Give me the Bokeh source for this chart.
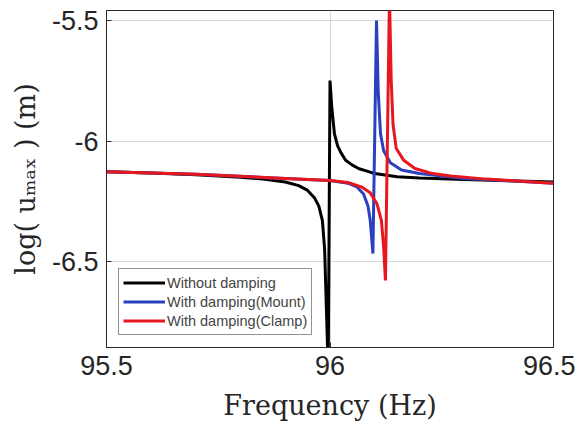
from bokeh.plotting import figure
from bokeh.models import Range1d, Legend, LegendItem
from bokeh.embed import file_html
from bokeh.resources import INLINE

# Data
x_black = [95.5, 95.6, 95.7, 95.8, 95.85, 95.9, 95.93, 95.95, 95.965, 95.975, 95.983,
           95.988, 95.992, 95.996, 96.0, 96.004, 96.01, 96.017, 96.025, 96.035, 96.05,
           96.065, 96.083, 96.1, 96.15, 96.2, 96.3, 96.4, 96.5]
y_black = [-6.127, -6.133, -6.140, -6.150, -6.158, -6.170, -6.185, -6.205, -6.235, -6.27,
           -6.33, -6.45, -6.70, -6.95, -5.749, -5.86, -5.97, -6.02, -6.05, -6.08, -6.10,
           -6.115, -6.125, -6.135, -6.148, -6.153, -6.160, -6.165, -6.170]

x_blue = [95.5, 95.7, 95.9, 96.0, 96.04, 96.06, 96.075, 96.085, 96.09, 96.094, 96.096,
          96.104, 96.108, 96.113, 96.12, 96.135, 96.16, 96.2, 96.25, 96.3, 96.4, 96.5]
y_blue = [-6.127, -6.138, -6.155, -6.164, -6.175, -6.19, -6.22, -6.27, -6.33, -6.42,
          -6.467, -5.5, -5.8, -5.97, -6.04, -6.09, -6.12, -6.135, -6.145, -6.155,
          -6.165, -6.175]

x_red = [95.5, 95.7, 95.9, 96.0, 96.04, 96.07, 96.09, 96.105, 96.115, 96.12, 96.124,
         96.133, 96.137, 96.141, 96.148, 96.165, 96.19, 96.23, 96.27, 96.35, 96.5]
y_red = [-6.127, -6.138, -6.155, -6.164, -6.172, -6.19, -6.215, -6.26, -6.33, -6.44,
         -6.579, -5.40, -5.75, -5.93, -6.03, -6.08, -6.114, -6.135, -6.145, -6.158, -6.175]

series_names = ["Without damping", "With damping(Mount)", "With damping(Clamp)"]
x_ticks = [95.5, 96, 96.5]
x_tick_labels = ["95.5", "96", "96.5"]
y_ticks = [-6.5, -6, -5.5]
y_tick_labels = ["-6.5", "-6", "-5.5"]

p = figure(width=575, height=423, output_backend="svg", toolbar_location=None,
           x_range=Range1d(95.5, 96.5), y_range=Range1d(-6.857, -5.458),
           min_border_left=106, min_border_right=22, min_border_top=10, min_border_bottom=76)

colors = ["#000000", "#2b40c0", "#e8171e"]
r1 = p.line(x_black, y_black, line_color=colors[0], line_width=3)
r2 = p.line(x_blue, y_blue, line_color=colors[1], line_width=3)
r3 = p.line(x_red, y_red, line_color=colors[2], line_width=3)

legend = Legend(items=[LegendItem(label=series_names[0], renderers=[r1]),
                       LegendItem(label=series_names[1], renderers=[r2]),
                       LegendItem(label=series_names[2], renderers=[r3])],
                location="bottom_left", margin=12, padding=4, spacing=0,
                label_text_font="Liberation Sans", label_text_font_size="14.5px",
                label_standoff=2, glyph_width=42, glyph_height=19, label_height=19,
                border_line_color="#262626", border_line_width=1,
                background_fill_color="white", background_fill_alpha=1.0)
p.add_layout(legend, "center")

p.xaxis.ticker = x_ticks
p.xaxis.major_label_overrides = {t: l for t, l in zip(x_ticks, x_tick_labels)}
p.yaxis.ticker = y_ticks
p.yaxis.major_label_overrides = {t: l for t, l in zip(y_ticks, y_tick_labels)}

p.xaxis.axis_label = "Frequency (Hz)"
p.yaxis.axis_label = "log( uₘₐₓ ) (m)"

for ax in [p.xaxis, p.yaxis]:
    ax.major_label_text_font = "Liberation Sans"
    ax.major_label_text_font_size = "27px"
    ax.major_label_text_color = "#262626"
    ax.axis_label_text_font = "DejaVu Serif"
    ax.axis_label_text_font_size = "27px"
    ax.axis_label_text_font_style = "normal"
    ax.axis_label_text_color = "#262626"
    ax.axis_line_color = "#262626"
    ax.major_tick_line_color = "#262626"
    ax.major_tick_in = 5
    ax.major_tick_out = 0
    ax.minor_tick_line_color = None
    ax.major_label_standoff = 8

p.xaxis.axis_label_standoff = 12
p.yaxis.axis_label_standoff = 8
p.yaxis.major_label_orientation = "horizontal"
p.outline_line_color = "#262626"
p.outline_line_alpha = 1.0
p.xgrid.grid_line_color = "#d6d6d6"
p.ygrid.grid_line_color = "#d6d6d6"
p.background_fill_color = "white"
p.border_fill_color = "white"

open("out.html", "w").write(file_html(p, INLINE))
